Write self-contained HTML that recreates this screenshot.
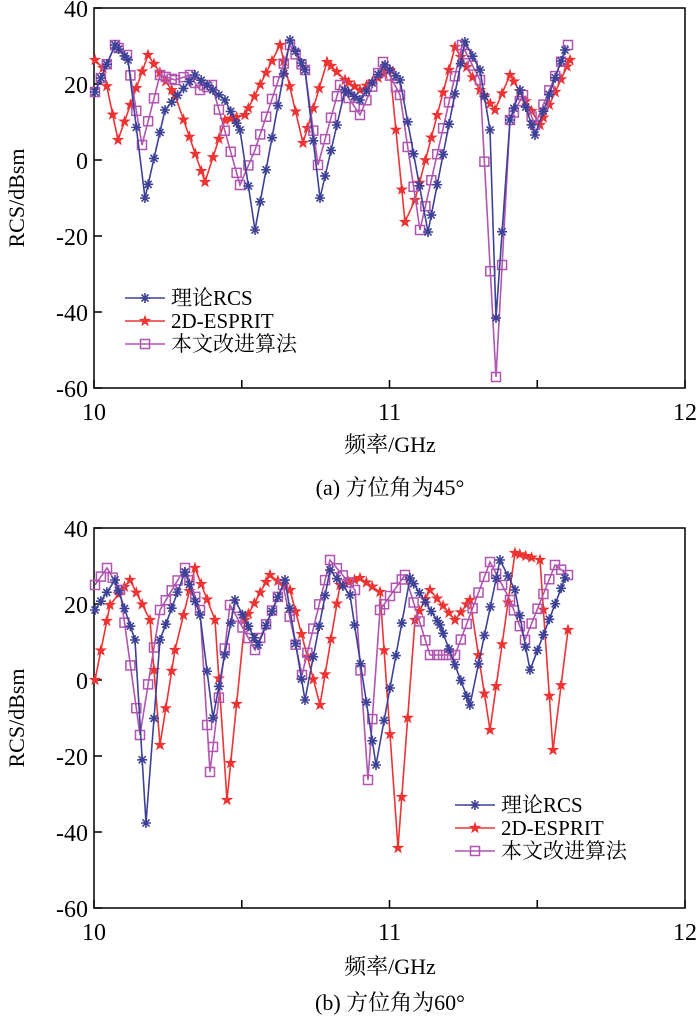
<!DOCTYPE html><html><head><meta charset="utf-8"><style>body{margin:0;background:#fff}svg{display:block}text{font-family:"Liberation Serif","Noto Serif CJK SC",serif;fill:#000}</style></head><body>
<svg id="s" width="700" height="1018" xmlns="http://www.w3.org/2000/svg"></svg>
<script>
const S=document.getElementById('s');let h='';
const C={b:'#3d4197',r:'#ee3333',p:'#b055b0'};
function axes(top){const L=94,R=685,B=top+380;
h+=`<rect x="${L}" y="${top}" width="${R-L}" height="380" fill="none" stroke="#000" stroke-width="1.5"/>`;
for(let i=0;i<=5;i++){const y=top+i*76,v=40-20*i;h+=`<line x1="${L}" y1="${y}" x2="${L+8}" y2="${y}" stroke="#000" stroke-width="1.5"/><text x="${L-6}" y="${y+9}" font-size="24" text-anchor="end">${v}</text>`;}
for(let i=0;i<=4;i++){const x=L+i*147.75;h+=`<line x1="${x}" y1="${B}" x2="${x}" y2="${B-8}" stroke="#000" stroke-width="1.5"/>`;if(i%2==0)h+=`<text x="${x}" y="${B+32}" font-size="24" text-anchor="middle">${10+i/2}</text>`;}
h+=`<text transform="translate(24,${top+190}) rotate(-90)" font-size="22" text-anchor="middle">RCS/dBsm</text>`;}
function interp(pts){const xs=[];const kx=pts.map(p=>p[0]);for(let x=95;x<=kx[kx.length-1]+0.1;x+=5.9){if(!kx.some(k=>Math.abs(k-x)<2.8))xs.push(x);}kx.forEach(k=>xs.push(k));xs.sort((a,b)=>a-b);
return xs.map(x=>{let i=0;while(i<pts.length-2&&pts[i+1][0]<x)i++;const a=pts[i],b=pts[i+1];const t=Math.max(0,Math.min(1,(x-a[0])/(b[0]-a[0])));return [x,a[1]+(b[1]-a[1])*t];});}
function mk(t,x,y){const c=C[t];if(t=='b'){let s='';for(let k=0;k<4;k++){const a=k*Math.PI/4;s+=`M${x-5*Math.cos(a)},${y-5*Math.sin(a)}L${x+5*Math.cos(a)},${y+5*Math.sin(a)}`;}return `<path d="${s}" stroke="${c}" stroke-width="1.6"/>`;}
if(t=='r'){let s='';for(let k=0;k<10;k++){const a=-Math.PI/2+k*Math.PI/5,r=k%2?2.6:6.5;s+=(k?'L':'M')+(x+r*Math.cos(a)).toFixed(1)+','+(y+r*Math.sin(a)).toFixed(1);}return `<path d="${s}Z" fill="${c}"/>`;}
return `<rect x="${x-4.5}" y="${y-4.5}" width="9" height="9" fill="none" stroke="${c}" stroke-width="1.5"/>`;}
function series(t,pts){const o=interp(pts);h+=`<polyline points="${o.map(p=>p[0].toFixed(1)+','+p[1].toFixed(1)).join(' ')}" fill="none" stroke="${C[t]}" stroke-width="1.6"/>`;o.forEach(p=>h+=mk(t,p[0],p[1]));}
function legend(x,y){[['b','理论RCS'],['r','2D-ESPRIT'],['p','本文改进算法']].forEach((e,i)=>{const yy=y+i*23;h+=`<line x1="${x}" y1="${yy}" x2="${x+40}" y2="${yy}" stroke="${C[e[0]]}" stroke-width="1.6"/>`+mk(e[0],x+20,yy)+`<text x="${x+46}" y="${yy+7}" font-size="21">${e[1]}</text>`;});}
axes(8);
series('r',[[95,60],[103,68],[118,140],[148,55],[175,95],[205,182],[225,120],[245,115],[280,45],[303,143],[327,62],[345,80],[360,90],[390,70],[405,222],[415,200],[455,47],[480,90],[495,110],[510,75],[540,125],[570,60]]);
series('p',[[95,92],[115,45],[127,55],[142,145],[160,75],[175,80],[190,75],[200,90],[212,85],[240,185],[255,150],[290,45],[305,70],[318,165],[340,85],[360,115],[383,62],[400,95],[420,230],[462,45],[480,80],[496,377],[510,120],[523,95],[535,125],[568,45]]);
series('b',[[95,92],[115,45],[128,60],[145,198],[165,110],[195,75],[225,100],[240,130],[255,230],[290,40],[305,70],[320,198],[345,90],[360,100],[385,65],[400,80],[428,232],[465,42],[480,70],[490,130],[496,318],[510,120],[520,90],[535,135],[565,50]]);
legend(125,298);
h+=`<text x="390" y="452" font-size="22" text-anchor="middle">频率/GHz</text><text x="390" y="495" font-size="22" text-anchor="middle">(a) 方位角为45°</text>`;
axes(528);
series('r',[[95,680],[110,605],[130,580],[150,620],[160,745],[175,650],[195,568],[215,620],[227,800],[245,620],[270,575],[290,590],[320,705],[340,585],[360,578],[380,592],[398,848],[415,620],[430,590],[455,620],[470,600],[490,730],[515,553],[540,560],[553,750],[568,630]]);
series('p',[[95,585],[107,568],[120,590],[140,735],[160,610],[185,568],[200,610],[210,772],[230,605],[255,650],[283,585],[302,675],[330,560],[355,590],[368,780],[380,610],[405,575],[430,655],[455,655],[490,562],[510,600],[525,640],[555,565],[568,575]]);
series('b',[[95,610],[115,580],[135,640],[146,823],[160,640],[185,572],[200,615],[213,718],[235,600],[258,645],[285,580],[305,700],[330,570],[350,595],[376,765],[410,578],[440,625],[470,705],[500,560],[515,590],[530,670],[565,578]]);
legend(455,805);
h+=`<text x="390" y="974" font-size="22" text-anchor="middle">频率/GHz</text><text x="390" y="1010" font-size="22" text-anchor="middle">(b) 方位角为60°</text>`;
S.innerHTML=h;
</script></body></html>
